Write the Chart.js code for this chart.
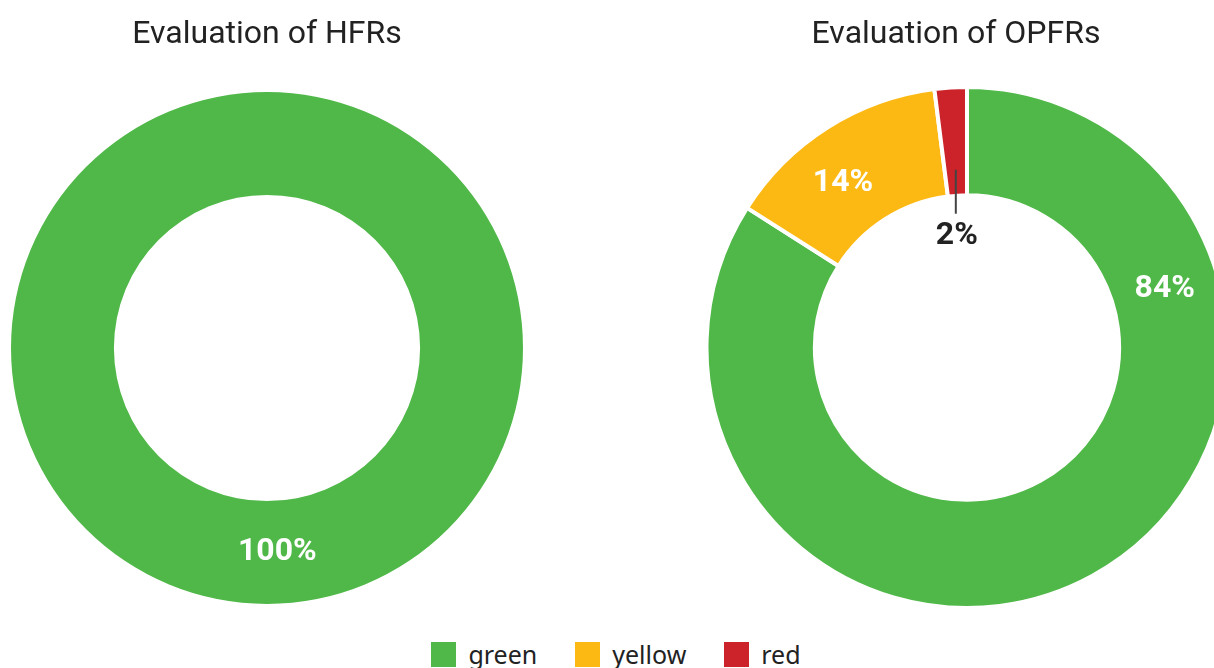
<!DOCTYPE html>
<html>
<head>
<meta charset="utf-8">
<script src="https://cdn.jsdelivr.net/npm/chart.js@4/dist/chart.umd.min.js"></script>
<style>
  html, body { margin: 0; padding: 0; background: #fff; width: 1214px; height: 668px; overflow: hidden; }
  .box { position: absolute; top: 0; }
  .title { position: absolute; top: 13px; width: 500px; text-align: center; line-height: 38px;
           font-family: Roboto, sans-serif; font-size: 32px; color: #222; }
  #legend { position: absolute; left: 9px; top: 637px; width: 1214px; display: flex; justify-content: center;
            font-family: "Noto Sans", sans-serif; font-size: 25px; color: #222; }
  #legend .item { display: flex; align-items: center; margin: 0 19px; }
  #legend .sw { width: 25px; height: 25px; margin-right: 12px; }
</style>
</head>
<body>
<div class="box" style="left:-3px"><canvas id="hfr" width="540" height="604"></canvas></div>
<div class="box" style="left:697px"><canvas id="opfr" width="540" height="610"></canvas></div>
<div class="title" style="left:17px">Evaluation of HFRs</div>
<div class="title" style="left:706px">Evaluation of OPFRs</div>
<div id="legend"></div>
<script>
const categories = ["green", "yellow", "red"];
const colors = ["#50B848", "#FDB913", "#CC232A"];
const hfrValues = [100, 0, 0];
const opfrValues = [84, 14, 2];

// percentage labels drawn on the slices
const pctLabels = {
  id: "pctLabels",
  afterDatasetsDraw(chart, args, opts) {
    const ctx = chart.ctx;
    const ds = chart.data.datasets[0];
    const total = ds.data.reduce((a, b) => a + b, 0);
    chart.getDatasetMeta(0).data.forEach((arc, i) => {
      const v = ds.data[i];
      if (!v) return;
      const p = arc.getProps(["x", "y", "startAngle", "endAngle", "innerRadius", "outerRadius"], true);
      const frac = opts.along && opts.along[i] != null ? opts.along[i] : 0.5;
      const a = p.startAngle + (p.endAngle - p.startAngle) * frac;
      const txt = Math.round(v / total * 100) + "%";
      ctx.save();
      ctx.font = "bold 32px Roboto";
      ctx.textAlign = "center";
      ctx.textBaseline = "middle";
      if (v / total < 0.05) {
        const r = p.innerRadius + (p.outerRadius - p.innerRadius) * 0.24;
        const x = p.x + Math.cos(a) * r, y = p.y + Math.sin(a) * r;
        ctx.strokeStyle = "#444";
        ctx.lineWidth = 2;
        ctx.beginPath();
        ctx.moveTo(x, y);
        ctx.lineTo(x, y + 44);
        ctx.stroke();
        ctx.fillStyle = "#222";
        ctx.fillText(txt, x + 1, y + 66);
      } else {
        const r = (p.innerRadius + p.outerRadius) / 2;
        ctx.fillStyle = "#fff";
        ctx.fillText(txt, p.x + Math.cos(a) * r, p.y + Math.sin(a) * r);
      }
      ctx.restore();
    });
  }
};

function makeChart(id, values, border, cutout, padTop, along) {
  return new Chart(id, {
    type: "doughnut",
    data: {
      labels: categories,
      datasets: [{ data: values, backgroundColor: colors, borderColor: "#fff", borderWidth: border }]
    },
    options: {
      responsive: false,
      animation: false,
      events: [],
      cutout: cutout,
      layout: { padding: { top: padTop } },
      plugins: {
        legend: { display: false },
        tooltip: { enabled: false },
        pctLabels: { along: along }
      }
    },
    plugins: [pctLabels]
  });
}

makeChart("hfr", hfrValues, 0, "59.8%", 92, [0.492]);
makeChart("opfr", opfrValues, 4, "58.4%", 85, [0.243, 0.41, 0.5]);

const legend = document.getElementById("legend");
categories.forEach((c, i) => {
  const item = document.createElement("div");
  item.className = "item";
  item.innerHTML = '<span class="sw" style="background:' + colors[i] + '"></span><span>' + c + '</span>';
  legend.appendChild(item);
});
</script>
</body>
</html>
